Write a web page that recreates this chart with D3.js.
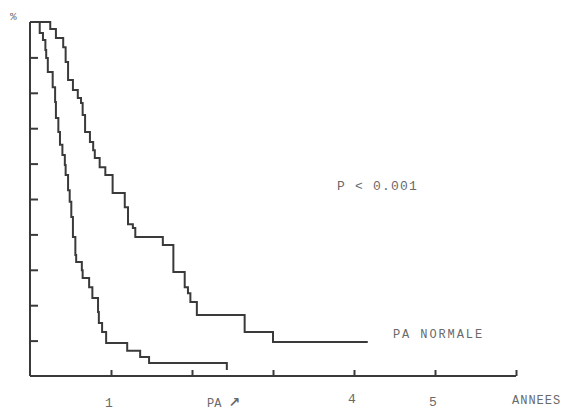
<!DOCTYPE html>
<html>
<head>
<meta charset="utf-8">
<script src="https://cdn.jsdelivr.net/npm/d3@7"></script>
<style>
  body { margin: 0; background: #fff; }
  svg { display: block; }
  text { font-family: "Liberation Mono", "DejaVu Sans Mono", monospace; fill: #6a6a6a; }
</style>
</head>
<body>
<svg id="chart"></svg>
<script>
// survival curves (years, % alive)
const normalTimes = [0, 0.25, 0.32, 0.41, 0.44, 0.47, 0.53, 0.59, 0.63, 0.65, 0.68, 0.74, 0.78, 0.80, 0.86, 0.93, 1.02, 1.17, 1.21, 1.27, 1.30, 1.64, 1.77, 1.91, 1.95, 1.98, 2.06, 2.65, 3.00, 4.17]
const normalSurv  = [100, 98.0, 95.5, 92.9, 88.7, 83.6, 80.8, 78.5, 77.1, 73.7, 68.9, 66.1, 63.8, 61.6, 59.0, 56.8, 51.7, 47.7, 42.9, 41.8, 39.3, 37.0, 29.4, 25.1, 23.4, 20.9, 17.2, 12.4, 9.6, 9.6]

const highTimes = [0, 0.12, 0.16, 0.19, 0.20, 0.22, 0.28, 0.31, 0.32, 0.35, 0.37, 0.40, 0.43, 0.44, 0.47, 0.49, 0.51, 0.53, 0.56, 0.57, 0.64, 0.65, 0.73, 0.77, 0.84, 0.85, 0.89, 0.94, 1.20, 1.36, 1.47, 2.43]
const highSurv  = [100, 96.9, 94.9, 92.1, 89.8, 85.9, 81.6, 77.4, 72.9, 68.9, 65.3, 62.4, 59.6, 56.8, 52.5, 49.2, 44.9, 39.3, 34.2, 32.2, 29.9, 27.7, 25.1, 22.0, 18.1, 15.0, 12.4, 9.3, 7.1, 5.4, 3.7, 1.7]

const yearTicks  = [1, 2, 3, 4, 5, 6]
const yearLabels = ["1", "", "", "4", "5", ""]
const pctTicks   = [10, 20, 30, 40, 50, 60, 70, 80, 90]

const svg = d3.select("#chart")
    .attr("width", 568)
    .attr("height", 411)

const x = d3.scaleLinear().domain([0, 6]).range([30, 516])
const y = d3.scaleLinear().domain([0, 100]).range([376, 22])

const ink = "#3a3a3a"

// y axis: plain line with ticks pointing into the plot
const yAxis = svg.append("g")
    .attr("transform", "translate(" + x(0) + ",0)")
    .call(d3.axisRight(y).tickValues(pctTicks).tickSize(8).tickFormat(""))
yAxis.select(".domain").attr("d", "M0," + y(100) + "V" + y(0))

// x axis: ticks pointing up
const xAxis = svg.append("g")
    .attr("transform", "translate(0," + y(0) + ")")
    .call(d3.axisTop(x).tickValues(yearTicks).tickSize(6).tickFormat(""))
xAxis.select(".domain").attr("d", "M" + x(0) + ",0H" + x(6))

svg.selectAll(".domain, .tick line")
    .attr("stroke", ink)
    .attr("stroke-width", 2)

// tick labels sit well below the axis, as on the original
svg.append("g")
    .selectAll("text")
    .data(yearTicks)
    .enter()
    .append("text")
    .attr("x", d => x(d) - 2)
    .attr("y", (d, i) => [407, 407, 407, 403, 406, 406][i])
    .attr("text-anchor", "middle")
    .style("font-size", "13px")
    .text((d, i) => yearLabels[i])

svg.append("text")
    .attr("x", 512).attr("y", 404)
    .style("font-size", "12px")
    .style("letter-spacing", "1px")
    .text("ANNEES")

// "PA" with the up-right arrow for the raised group
const pa = svg.append("text")
    .attr("x", 207).attr("y", 407)
    .style("font-size", "12px")
pa.append("tspan").text("PA ")
pa.append("tspan")
    .style("font-family", "DejaVu Sans")
    .style("font-size", "14px")
    .style("font-weight", "bold")
    .text("\u2197")

svg.append("text")
    .attr("x", 10).attr("y", 20)
    .style("font-size", "11px")
    .text("%")

svg.append("text")
    .attr("x", 337).attr("y", 190)
    .style("font-size", "13px")
    .style("letter-spacing", "1.2px")
    .text("P < 0.001")

svg.append("text")
    .attr("x", 393).attr("y", 338)
    .style("font-size", "12px")
    .style("letter-spacing", "1.9px")
    .text("PA NORMALE")

// the two step curves
const line = d3.line()
    .x(d => x(d[0]))
    .y(d => y(d[1]))
    .curve(d3.curveStepAfter)

const curves = [
    d3.zip(normalTimes, normalSurv),
    d3.zip(highTimes, highSurv)
]

svg.selectAll(".curve")
    .data(curves)
    .enter()
    .append("path")
    .attr("class", "curve")
    .attr("d", line)
    .attr("fill", "none")
    .attr("stroke", ink)
    .attr("stroke-width", 2)
</script>
</body>
</html>
